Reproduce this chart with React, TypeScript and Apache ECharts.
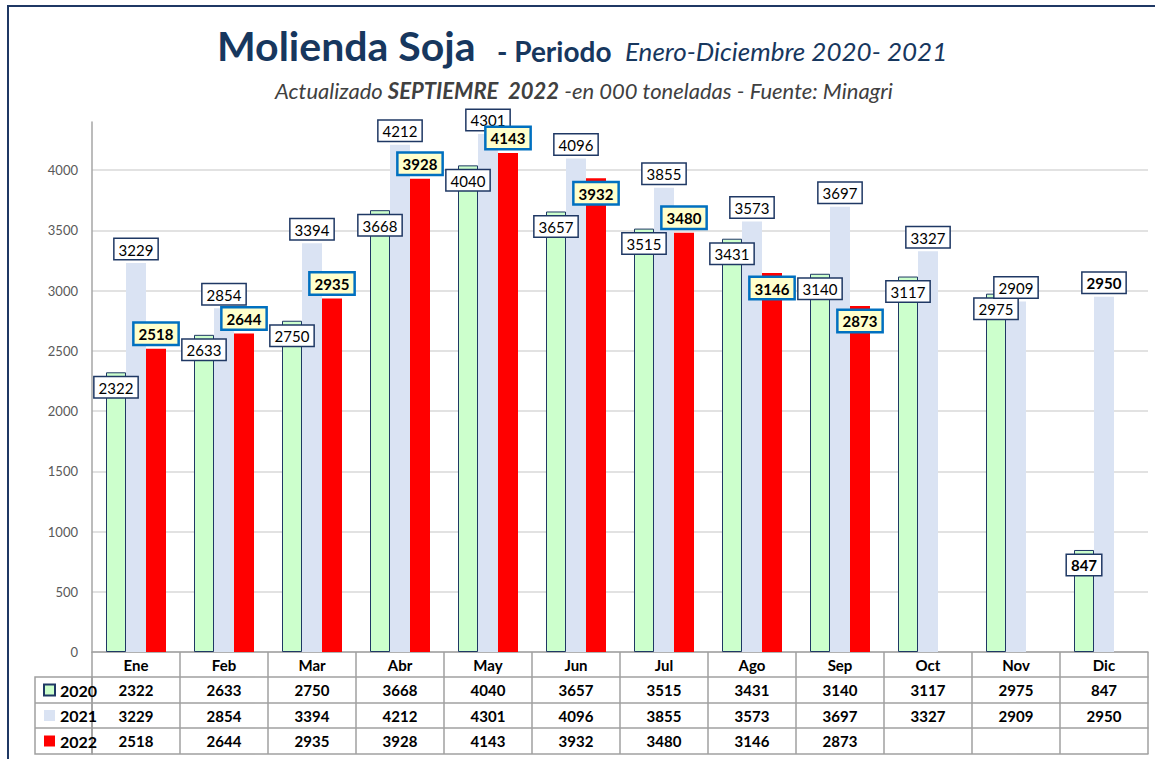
import React, { useEffect, useRef } from "react";
import * as echarts from "echarts";

const months = ["Ene", "Feb", "Mar", "Abr", "May", "Jun", "Jul", "Ago", "Sep", "Oct", "Nov", "Dic"];
const data2020 = [2322, 2633, 2750, 3668, 4040, 3657, 3515, 3431, 3140, 3117, 2975, 847];
const data2021 = [3229, 2854, 3394, 4212, 4301, 4096, 3855, 3573, 3697, 3327, 2909, 2950];
const data2022 = [2518, 2644, 2935, 3928, 4143, 3932, 3480, 3146, 2873];
const seriesNames = ["2020", "2021", "2022"];
const insideLabels2022 = [5, 7, 8];
const boldLabelIdx = [11];

const NAVY = "#1f3864";
const TITLE = "#17375e";
const GRAY = "#a0a0a0";
const FONT = "Lato";

export default function App() {
  const ref = useRef<HTMLDivElement>(null);
  useEffect(() => {
    document.body.style.margin = "0";
    const chart = echarts.init(ref.current!, null, { renderer: "svg" });

    const rowOffsets = [0, 25, 51, 76];
    const rowTicks = [25, 26, 25, 26];
    const rowFormatters = [
      (_v: string, i: number) => months[i],
      (_v: string, i: number) => String(data2020[i]),
      (_v: string, i: number) => String(data2021[i]),
      (_v: string, i: number) => (data2022[i] != null ? String(data2022[i]) : ""),
    ];
    const tableAxes: any[] = rowOffsets.map((off, k) => ({
      type: "category",
      data: months,
      position: "bottom",
      offset: off,
      gridIndex: 0,
      axisLine: { show: true, lineStyle: { color: GRAY, width: 1.5 } },
      axisTick: { show: true, interval: 0, length: rowTicks[k], lineStyle: { color: GRAY, width: 1.5 } },
      axisLabel: {
        interval: 0,
        margin: 5,
        formatter: rowFormatters[k],
        fontFamily: FONT,
        fontWeight: "bold",
        fontSize: 15,
        color: "#000",
      },
      splitLine: { show: false },
    }));
    tableAxes.push({
      type: "category",
      data: months,
      position: "bottom",
      offset: 102,
      axisLine: { show: true, lineStyle: { color: GRAY, width: 1.5 } },
      axisTick: { show: false },
      axisLabel: { show: false },
    });

    const lab2020 = {
      show: true,
      position: "insideTop",
      distance: 5,
      backgroundColor: "#fff",
      borderColor: NAVY,
      borderWidth: 1.5,
      padding: [3, 4, 2, 4],
      fontFamily: FONT,
      fontSize: 15,
      color: "#000",
    };
    const lab2021 = { ...lab2020, position: "top", distance: 4 };
    const lab2022 = {
      show: true,
      position: "top",
      distance: 5,
      backgroundColor: "#ffffcc",
      borderColor: "#0070c0",
      borderWidth: 2.5,
      padding: [3, 4, 2, 4],
      fontFamily: FONT,
      fontWeight: "bold",
      fontSize: 15,
      color: "#000",
    };

    const option: any = {
      animation: false,
      backgroundColor: "#fff",
      grid: { left: 92, right: 7, top: 122, bottom: 107, containLabel: false },
      legend: {
        data: seriesNames,
        orient: "vertical",
        left: 38,
        top: 677,
        itemWidth: 11,
        itemHeight: 11,
        itemGap: 9.5,
        icon: "rect",
        textStyle: { fontFamily: FONT, fontWeight: "bold", fontSize: 16, lineHeight: 16, color: "#000" },
        selectedMode: false,
      },
      xAxis: tableAxes,
      yAxis: {
        type: "value",
        min: 0,
        max: 4400,
        interval: 500,
        axisLine: { show: true, lineStyle: { color: "#a6a6a6", width: 1.5 } },
        axisTick: { show: false },
        axisLabel: {
          margin: 14,
          fontFamily: FONT,
          fontSize: 13,
          color: "#595959",
          showMaxLabel: false,
          formatter: (v: number) => (v % 500 === 0 ? String(v) : ""),
        },
        splitLine: { show: true, showMaxLine: false, lineStyle: { color: "#d9d9d9", width: 1.5 } },
      },
      series: [
        {
          name: "2020",
          type: "bar",
          xAxisIndex: 0,
          barWidth: 20,
          barGap: "0%",
          itemStyle: { color: "#ccffcc", borderColor: NAVY, borderWidth: 1 },
          label: lab2020,
          data: data2020.map((v, i) =>
            boldLabelIdx.includes(i) ? { value: v, label: { fontWeight: "bold" } } : v
          ),
        },
        {
          name: "2021",
          type: "bar",
          xAxisIndex: 0,
          barWidth: 20,
          barGap: "0%",
          itemStyle: { color: "#dae3f3" },
          label: lab2021,
          data: data2021.map((v, i) =>
            boldLabelIdx.includes(i) ? { value: v, label: { fontWeight: "bold" } } : v
          ),
        },
        {
          name: "2022",
          type: "bar",
          xAxisIndex: 0,
          barWidth: 20,
          barGap: "0%",
          itemStyle: { color: "#ff0000" },
          label: lab2022,
          data: data2022.map((v, i) =>
            insideLabels2022.includes(i) ? { value: v, label: { position: "insideTop", distance: 5 } } : v
          ),
        },
      ],
      graphic: [
        {
          type: "rect",
          shape: { x: 8, y: 6, width: 1200, height: 800 },
          style: { fill: "none", stroke: NAVY, lineWidth: 2 },
          silent: true,
        },
        {
          type: "rect",
          shape: { x: 35, y: 677, width: 57, height: 77 },
          style: { fill: "none", stroke: GRAY, lineWidth: 1.5 },
          silent: true,
        },
        { type: "line", shape: { x1: 35, y1: 703, x2: 92, y2: 703 }, style: { stroke: GRAY, lineWidth: 1.5 }, silent: true },
        { type: "line", shape: { x1: 35, y1: 728, x2: 92, y2: 728 }, style: { stroke: GRAY, lineWidth: 1.5 }, silent: true },
        {
          type: "text",
          x: 217,
          y: 45,
          style: { text: "Molienda Soja", font: `bold 41px ${FONT}`, fill: TITLE, verticalAlign: "middle", align: "left" },
        },
        {
          type: "text",
          x: 497,
          y: 51,
          style: { text: "- Periodo", font: `bold 28px ${FONT}`, fill: TITLE, verticalAlign: "middle", align: "left" },
        },
        {
          type: "text",
          x: 625,
          y: 51,
          style: { text: "Enero-Diciembre 2020- 2021", font: `italic 26px ${FONT}`, fill: TITLE, verticalAlign: "middle", align: "left" },
        },
        {
          type: "text",
          x: 584,
          y: 90,
          style: {
            text: "{i|Actualizado }{b|SEPTIEMRE  2022}{i| -en 000 toneladas - Fuente: Minagri}",
            align: "center",
            verticalAlign: "middle",
            fill: "#404040",
            rich: {
              i: { fontFamily: FONT, fontStyle: "italic", fontSize: 22, fill: "#404040" },
              b: { fontFamily: FONT, fontStyle: "italic", fontWeight: "bold", fontSize: 22, fill: "#404040" },
            },
          },
        },
      ],
    };
    chart.setOption(option);
    return () => chart.dispose();
  }, []);
  return <div ref={ref} style={{ width: 1155, height: 759 }} />;
}
